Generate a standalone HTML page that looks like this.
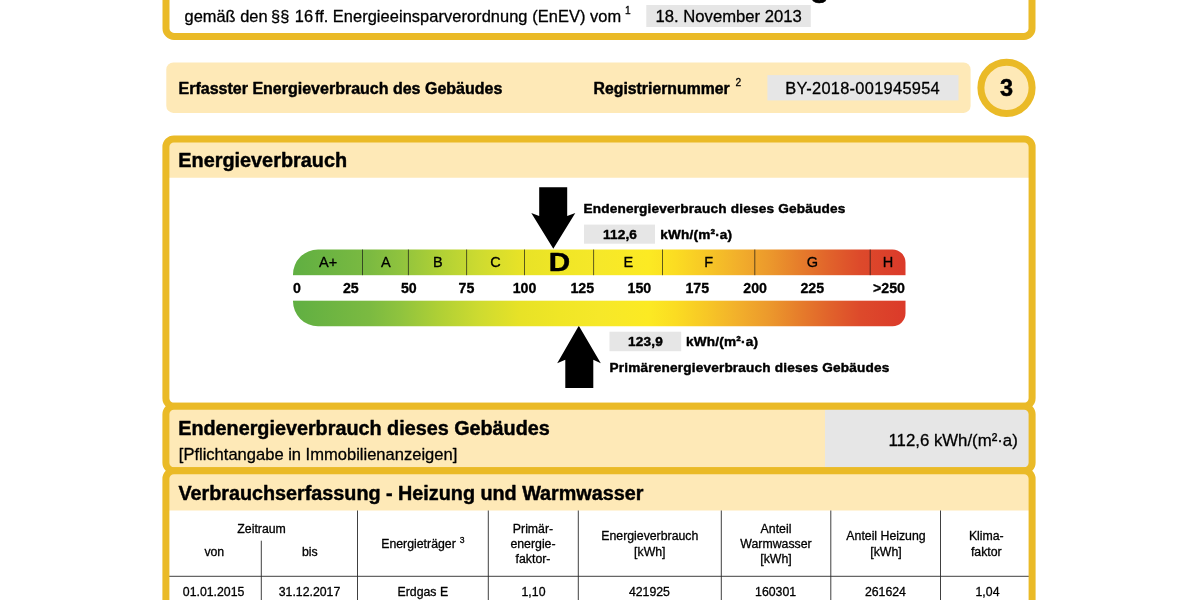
<!DOCTYPE html>
<html lang="de">
<head>
<meta charset="utf-8">
<title>Energieausweis für Wohngebäude – Erfasster Energieverbrauch des Gebäudes</title>
<style>
html,body{margin:0;padding:0;background:#fff;}
body{width:1200px;height:600px;overflow:hidden;font-family:"Liberation Sans",sans-serif;}
svg{display:block;}
text{font-family:"Liberation Sans",sans-serif;fill:#000;stroke:#000;stroke-width:0.3px;stroke-linejoin:round;}
.b{font-weight:bold;}
.r16{font-size:16.4px;}
.b,.b16,.h20,.b14,.num{stroke-width:0.45px;}
.b16{font-size:16px;font-weight:bold;}
.h20{font-size:19.7px;font-weight:bold;}
.b14{font-size:13.6px;font-weight:bold;letter-spacing:0.19px;}
.t12{font-size:12.3px;text-anchor:middle;}
.cls{font-size:14.5px;text-anchor:middle;stroke-width:0.35px;}
.num{font-size:14.2px;font-weight:bold;text-anchor:middle;}
.sup{font-size:10.2px;}
</style>
</head>
<body>
<svg width="1200" height="600" viewBox="0 0 1200 600">
<defs>
<linearGradient id="eg" x1="293" x2="905.5" y1="0" y2="0" gradientUnits="userSpaceOnUse">
<stop offset="0" stop-color="#60af42"/>
<stop offset="0.125" stop-color="#7bba41"/>
<stop offset="0.175" stop-color="#8fc33e"/>
<stop offset="0.24" stop-color="#b0d035"/>
<stop offset="0.305" stop-color="#cedb30"/>
<stop offset="0.37" stop-color="#e7e227"/>
<stop offset="0.436" stop-color="#f0e626"/>
<stop offset="0.5" stop-color="#f6e829"/>
<stop offset="0.58" stop-color="#fcea23"/>
<stop offset="0.625" stop-color="#fbdc22"/>
<stop offset="0.675" stop-color="#f7c726"/>
<stop offset="0.725" stop-color="#f2b02b"/>
<stop offset="0.775" stop-color="#ec9a2c"/>
<stop offset="0.825" stop-color="#e67e2b"/>
<stop offset="0.875" stop-color="#e1632b"/>
<stop offset="0.925" stop-color="#dd4a2b"/>
<stop offset="1" stop-color="#db3a2a"/>
</linearGradient>
</defs>

<!-- ===== Box 1 : title box (cropped) ===== -->
<g id="box1">
<rect x="166" y="-60" width="866" height="96.4" rx="8" fill="#fff" stroke="#eaba27" stroke-width="7"/>
<text class="b" x="367.9" y="-4.3" font-size="32">ENERGIEAUSWEIS für Wohngebäude</text>
<text class="r16" x="184.6" y="22">gemäß den <tspan dx="-1">§§</tspan> <tspan dx="1">16</tspan> <tspan dx="-2.6">ff.</tspan> <tspan dx="-0.2" style="letter-spacing:0.066px">Energieeinsparverordnung (EnEV) vom</tspan></text>
<text class="sup" x="625" y="13.8">1</text>
<rect x="646.3" y="5" width="164.5" height="22" fill="#e6e6e6"/>
<text class="r16" x="655.6" y="22" style="font-size:16.65px">18. November 2013</text>
</g>

<!-- ===== Row 2 : Erfasster Energieverbrauch ===== -->
<g id="row2">
<rect x="166.3" y="62.4" width="804.3" height="50.5" rx="7" fill="#fee9b7"/>
<text class="b16" x="178.6" y="93.9">Erfasster Energieverbrauch des Gebäudes</text>
<text class="b16" x="593.6" y="93.9" style="font-size:15.8px">Registriernummer</text>
<text class="sup" x="735.6" y="85.8">2</text>
<rect x="767.4" y="75.1" width="191.1" height="25.3" fill="#e6e6e6"/>
<text class="r16" x="785.3" y="93.9" style="letter-spacing:0.29px">BY-2018-001945954</text>
<circle cx="1006.5" cy="87.8" r="25.6" fill="#fee9b7" stroke="#eaba27" stroke-width="7"/>
<text class="b" x="1006.5" y="96.3" font-size="23.5" text-anchor="middle">3</text>
</g>

<!-- ===== Box 2 : Energieverbrauch ===== -->
<g id="box2">
<rect x="165.9" y="138.9" width="866.2" height="267.35" rx="8" fill="#fee9b7"/>
<path d="M165.9 177.7H1032.1V398.25A8 8 0 0 1 1024.1 406.25H173.9A8 8 0 0 1 165.9 398.25Z" fill="#fff"/>
<rect x="165.9" y="138.9" width="866.2" height="267.35" rx="8" fill="none" stroke="#eaba27" stroke-width="7"/>
<text class="h20" x="178.3" y="167" style="font-size:19.85px">Energieverbrauch</text>

<!-- arrows -->
<polygon points="539.2,187.2 567.2,187.2 567.2,216 575.3,213 553.3,248.8 531.3,213 539.2,216" fill="#000"/>
<polygon points="565.3,388 593.3,388 593.3,359.8 600.8,363.3 578.8,325.8 557.2,363.3 565.3,359.8" fill="#000"/>

<!-- scale bar -->
<path d="M318 249.5H892.5A13 13 0 0 1 905.5 262.5V313.2A13 13 0 0 1 892.5 326.2H318A25 25 0 0 1 293 301.2V274.5A25 25 0 0 1 318 249.5Z" fill="url(#eg)"/>
<rect x="292" y="275.2" width="615" height="25.5" fill="#fff"/>
<g stroke="#151515" stroke-width="0.85" stroke-opacity="0.8">
<line x1="362.5" x2="362.5" y1="249.5" y2="275.2"/>
<line x1="408.4" x2="408.4" y1="249.5" y2="275.2"/>
<line x1="466.6" x2="466.6" y1="249.5" y2="275.2"/>
<line x1="524.5" x2="524.5" y1="249.5" y2="275.2"/>
<line x1="593.6" x2="593.6" y1="249.5" y2="275.2"/>
<line x1="662.5" x2="662.5" y1="249.5" y2="275.2"/>
<line x1="754.8" x2="754.8" y1="249.5" y2="275.2"/>
<line x1="870.2" x2="870.2" y1="249.5" y2="275.2"/>
</g>
<g class="cls">
<text x="328.1" y="267.2">A+</text>
<text x="385.9" y="267.2">A</text>
<text x="437.8" y="267.2">B</text>
<text x="495.5" y="267.2">C</text>
<text x="628.4" y="267.2">E</text>
<text x="708.7" y="267.2">F</text>
<text x="812.3" y="267.2">G</text>
<text x="888" y="267.2">H</text>
</g>
<text class="b" x="559.4" y="271.3" font-size="25.8" text-anchor="middle" transform="translate(559.4 0) scale(1.15 1) translate(-559.4 0)">D</text>
<g class="num">
<text x="297" y="292.7">0</text>
<text x="350.8" y="292.7">25</text>
<text x="408.8" y="292.7">50</text>
<text x="466.4" y="292.7">75</text>
<text x="524.5" y="292.7">100</text>
<text x="582.3" y="292.7">125</text>
<text x="639.4" y="292.7">150</text>
<text x="697.3" y="292.7">175</text>
<text x="755.1" y="292.7">200</text>
<text x="812.3" y="292.7">225</text>
<text x="889" y="292.7">&gt;250</text>
</g>

<!-- labels upper -->
<text class="b14" x="583.4" y="213.4">Endenergieverbrauch dieses Gebäudes</text>
<rect x="584" y="224.6" width="71" height="19.1" fill="#e6e6e6"/>
<text class="b14" x="620" y="238.7" text-anchor="middle">112,6</text>
<text class="b14" x="660.2" y="238.7">kWh/(m²·a)</text>
<!-- labels lower -->
<rect x="609.5" y="331.7" width="71.7" height="19.5" fill="#e6e6e6"/>
<text class="b14" x="645.6" y="346.2" text-anchor="middle">123,9</text>
<text class="b14" x="686" y="346.2">kWh/(m²·a)</text>
<text class="b14" x="609.5" y="371.7">Primärenergieverbrauch dieses Gebäudes</text>
</g>

<!-- ===== Box 3 : Endenergieverbrauch dieses Gebäudes ===== -->
<g id="box3">
<rect x="165.9" y="406.3" width="866.2" height="64.4" rx="8" fill="#fee9b7"/>
<path d="M825 406.3H1024.1A8 8 0 0 1 1032.1 414.3V462.7A8 8 0 0 1 1024.1 470.7H825Z" fill="#e6e6e6"/>
<rect x="165.9" y="406.3" width="866.2" height="64.4" rx="8" fill="none" stroke="#eaba27" stroke-width="7"/>
<text class="h20" x="178.2" y="435" style="font-size:19.8px">Endenergieverbrauch dieses Gebäudes</text>
<text class="r16" x="178.8" y="459.9" style="font-size:16.55px">[Pflichtangabe in Immobilienanzeigen]</text>
<text class="r16" x="1017.8" y="446" text-anchor="end" style="font-size:16.8px">112,6 kWh/(m²·a)</text>
</g>

<!-- ===== Box 4 : Verbrauchserfassung ===== -->
<g id="box4">
<rect x="165.9" y="470.8" width="866.2" height="200" rx="8" fill="#fee9b7"/>
<rect x="165.9" y="510.5" width="866.2" height="120" fill="#fff"/>
<g stroke="#2a2a2a" stroke-width="0.9">
<line x1="261.3" x2="261.3" y1="540.7" y2="600"/>
<line x1="357.5" x2="357.5" y1="510.5" y2="600"/>
<line x1="488.3" x2="488.3" y1="510.5" y2="600"/>
<line x1="578.3" x2="578.3" y1="510.5" y2="600"/>
<line x1="721.3" x2="721.3" y1="510.5" y2="600"/>
<line x1="830.8" x2="830.8" y1="510.5" y2="600"/>
<line x1="940.5" x2="940.5" y1="510.5" y2="600"/>
<line x1="169" x2="1029" y1="576.3" y2="576.3"/>
</g>
<rect x="165.9" y="470.8" width="866.2" height="200" rx="8" fill="none" stroke="#eaba27" stroke-width="7"/>
<text class="h20" x="178.4" y="500" style="font-size:19.78px">Verbrauchserfassung - Heizung und Warmwasser</text>
<g class="t12">
<text x="261.6" y="532.5">Zeitraum</text>
<text x="214.3" y="555.5">von</text>
<text x="309.8" y="555.5">bis</text>
<text x="418.5" y="548">Energieträger</text>
<text x="533" y="532.5">Primär-</text>
<text x="533" y="548">energie-</text>
<text x="533" y="562.5">faktor-</text>
<text x="649.8" y="540">Energieverbrauch</text>
<text x="649.8" y="555.5">[kWh]</text>
<text x="776" y="532.5">Anteil</text>
<text x="776" y="548">Warmwasser</text>
<text x="776" y="563">[kWh]</text>
<text x="886" y="540">Anteil Heizung</text>
<text x="886" y="555.5">[kWh]</text>
<text x="986.3" y="540">Klima-</text>
<text x="986.3" y="555.5">faktor</text>
<text x="213.6" y="596.3">01.01.2015</text>
<text x="309.5" y="596.3">31.12.2017</text>
<text x="422.8" y="596.3">Erdgas E</text>
<text x="533.5" y="596.3">1,10</text>
<text x="649.4" y="596.3">421925</text>
<text x="775.6" y="596.3">160301</text>
<text x="885.4" y="596.3">261624</text>
<text x="987.5" y="596.3">1,04</text>
</g>
<text x="459.8" y="543.1" font-size="8.6">3</text>
</g>
</svg>
</body>
</html>
